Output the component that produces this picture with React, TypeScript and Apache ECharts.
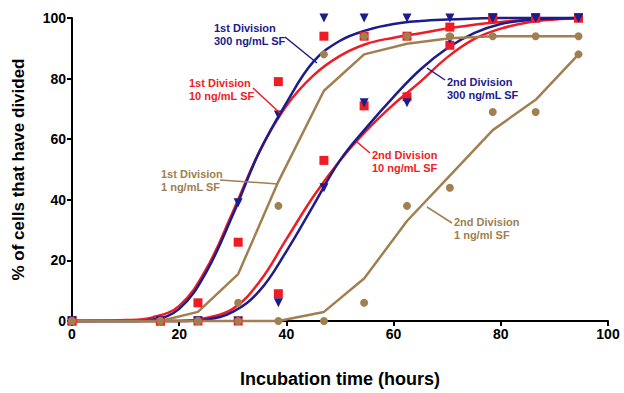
import React, { useEffect, useRef } from "react";
import * as echarts from "echarts";

const times = [0, 16.5, 23.5, 31, 38.5, 47, 54.5, 62.5, 70.5, 78.5, 86.5, 94.5];

// observed points
const d1_300 = [0, 0, 0, 39, 68, 100, 100, 100, 100, 100, 100, 100];
const d1_10 = [0, 0, 6, 26, 79, 94, 94, 94, 97, 100, 100, 100];
const d1_1 = [0, 0, 0, 6, 38, 88, 94, 94, 94, 94, 94, 94];
const d2_300 = [0, 0, 0, 0, 6, 44, 72, 72, 93, 100, 100, 100];
const d2_10 = [0, 0, 0, 0, 9, 53, 71, 74, 91, 100, 100, 100];
const d2_1 = [0, 0, 0, 0, 0, 0, 6, 38, 44, 69, 69, 88];

// fitted curves
const fitX = [0, 10, 15, 20, 25, 30, 35, 40, 45, 50, 55, 60, 65, 70, 75, 80, 85, 90, 95];
const fit1_300 = [0, 0, 0.5, 4, 16, 35, 56, 72, 85.5, 92.5, 96, 98, 99, 99.5, 99.8, 100, 100, 100, 100];
const fit1_10 = [0, 0.3, 1.2, 5, 17, 36, 56, 71, 81, 87.5, 91.5, 93.5, 95, 96.5, 97.8, 98.7, 99.3, 99.7, 100];
const fit2_300 = [0, 0, 0, 0, 0.5, 3, 10, 23, 38, 53, 64, 74, 83, 90, 95, 98, 99.3, 99.8, 100];
const fit2_10 = [0, 0, 0, 0, 1, 4, 13, 27, 41, 53, 63, 71.5, 79, 87, 93, 96.5, 98.5, 99.5, 100];
// connected curves for 1 ng/mL
const line1_1 = [0, 0, 3, 15.5, 46, 76, 88, 91.5, 93.3, 94, 94, 94];
const line2_1 = [0, 0, 0, 0, 0, 3, 14, 33, 48, 63, 73, 88];

const NAVY = "#1c1c8a";
const RED = "#ee1c24";
const BROWN = "#a08050";

const pair = (xs: number[], ys: number[]) => xs.map((x, i) => [x, ys[i]]);

export default function App() {
  const ref = useRef<HTMLDivElement>(null);
  useEffect(() => {
    document.body.style.margin = "0";
    const chart = echarts.init(ref.current!, undefined, { renderer: "svg" });
    const font = "Liberation Sans, Arial, sans-serif";
    const lineS = (name: string, data: number[][], color: string, smooth: boolean) => ({
      type: "line",
      name,
      data,
      smooth: smooth ? 0.4 : false,
      showSymbol: false,
      symbol: "none",
      lineStyle: { color, width: 2.5 },
      z: 2,
      clip: false,
    });
    const scat = (name: string, data: number[][], color: string, symbol: string, size: number, rot = 0, z = 3) => ({
      type: "scatter",
      name,
      data,
      symbol,
      symbolSize: size,
      symbolRotate: rot,
      itemStyle: { color, opacity: 1 },
      z,
      clip: false,
    });
    const ann = (text: string, x: number, y: number, color: string) => ({
      type: "text",
      x,
      y,
      z: 10,
      style: {
        text,
        fill: color,
        font: `bold 11px ${font}`,
        lineHeight: 12.5,
        verticalAlign: "top",
        align: "left",
      },
    });
    const lead = (x1: number, y1: number, x2: number, y2: number, color: string) => ({
      type: "line",
      z: 10,
      shape: { x1, y1, x2, y2 },
      style: { stroke: color, lineWidth: 1.5 },
    });
    chart.setOption({
      animation: false,
      backgroundColor: "#fff",
      grid: { left: 72, right: 16, top: 18, bottom: 67 },
      xAxis: {
        type: "value",
        min: 0,
        max: 100,
        interval: 20,
        name: "Incubation time (hours)",
        nameLocation: "middle",
        nameGap: 49,
        nameTextStyle: { fontFamily: font, fontWeight: "bold", fontSize: 18, color: "#000" },
        axisLine: { lineStyle: { color: "#000", width: 2 } },
        axisTick: { show: true, length: 5, lineStyle: { color: "#000", width: 2 } },
        axisLabel: { fontFamily: font, fontWeight: "bold", fontSize: 14, color: "#000", margin: 6 },
        splitLine: { show: false },
      },
      yAxis: {
        type: "value",
        min: 0,
        max: 100,
        interval: 20,
        name: "% of cells that have divided",
        nameLocation: "middle",
        nameGap: 45,
        nameTextStyle: { fontFamily: font, fontWeight: "bold", fontSize: 17, color: "#000" },
        axisLine: { show: true, lineStyle: { color: "#000", width: 2 } },
        axisTick: { show: true, length: 5, lineStyle: { color: "#000", width: 2 } },
        axisLabel: { fontFamily: font, fontWeight: "bold", fontSize: 14, color: "#000", margin: 6 },
        splitLine: { show: false },
      },
      series: [
        lineS("fit1_10", pair(fitX, fit1_10), RED, true),
        lineS("fit2_10", pair(fitX, fit2_10), RED, true),
        lineS("fit1_300", pair(fitX, fit1_300), NAVY, true),
        lineS("fit2_300", pair(fitX, fit2_300), NAVY, true),
        lineS("line1_1", pair(times, line1_1), BROWN, false),
        lineS("line2_1", pair(times, line2_1), BROWN, false),
        scat("1st 10", pair(times, d1_10), RED, "rect", 9),
        scat("2nd 10", pair(times, d2_10), RED, "rect", 9),
        scat("1st 300", pair(times, d1_300), NAVY, "triangle", 9, 180, 4),
        scat("2nd 300", pair(times, d2_300), NAVY, "triangle", 9, 180, 4),
        scat("1st 1", pair(times, d1_1), BROWN, "circle", 8, 0, 5),
        scat("2nd 1", pair(times, d2_1), BROWN, "circle", 8, 0, 5),
      ],
      graphic: [
        ann("1st Division\n300 ng/mL SF", 214, 22, NAVY),
        lead(285, 37, 317, 63, NAVY),
        ann("1st Division\n10 ng/mL SF", 189, 77, RED),
        lead(253, 88, 280, 113, RED),
        ann("1st Division\n1 ng/mL SF", 161, 168, BROWN),
        lead(220, 180, 278, 184, BROWN),
        ann("2nd Division\n300 ng/mL SF", 447, 76, NAVY),
        lead(445, 80, 427, 68, NAVY),
        ann("2nd Division\n10 ng/mL SF", 372, 149, RED),
        lead(370, 153, 357, 142, RED),
        ann("2nd Division\n1 ng/ml SF", 454, 216, BROWN),
        lead(452, 223, 427, 207, BROWN),
      ],
    });
    return () => chart.dispose();
  }, []);
  return <div ref={ref} style={{ width: 624, height: 393 }} />;
}
